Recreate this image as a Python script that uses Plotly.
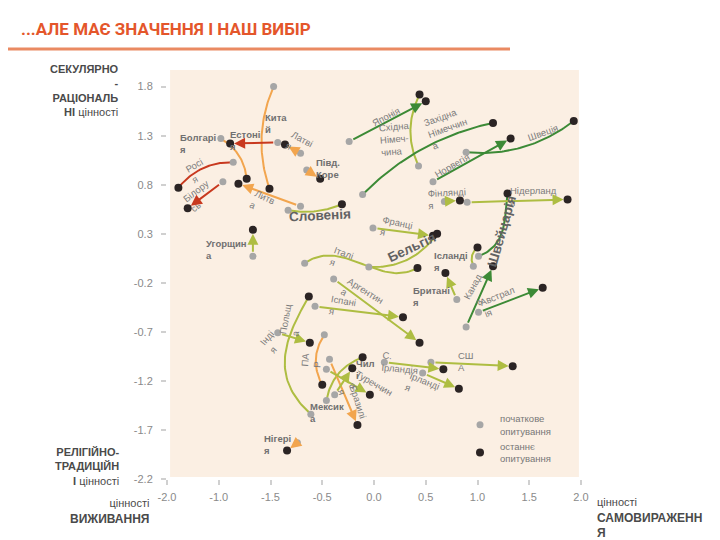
import numpy as np
import plotly.graph_objects as go

# ---------------- data ----------------
countries = ["Китай", "Болгарія", "Естонія", "Латвія", "Південна Корея", "Росія", "Білорусь", "Литва", "Словенія",
             "Японія", "Східна Німеччина", "Західна Німеччина", "Норвегія", "Швеція", "Фінляндія", "Нідерланди", "Швейцарія",
             "Ісландія", "Канада", "Австралія", "Британія", "Франція", "Бельгія", "Італія", "Угорщина", "Аргентина", "Іспанія",
             "Польща", "Індія", "ПАР", "Бразилія", "Туреччина", "Чилі", "Мексика", "Нігерія", "Північна Ірландія", "США", "Ірландія"]
x_first = [-0.97, -1.48, -0.93, -0.71, -0.65, -1.36, -1.46, -0.71, -0.83,
           -0.24, 0.43, -0.11, 0.57, 0.89, 0.68, 0.90, 1.01,
           0.96, 0.89, 1.01, 0.80, -0.01, -0.05, -0.67, -1.17, -0.39, -0.57,
           -0.61, -0.93, -0.48, -0.43, -0.46, -0.38, -0.46, -0.74, 0.10, 0.55, 0.47]
y_first = [1.80, 1.27, 1.23, 1.12, 0.95, 1.03, 0.83, 0.58, 0.54,
           1.24, 0.99, 0.70, 0.83, 1.13, 0.63, 0.62, 0.07,
           -0.03, -0.65, -0.50, -0.37, 0.36, -0.04, 0.00, 0.07, -0.16, -0.44,
           -1.54, -0.71, -0.73, -0.98, -1.08, -1.34, -1.40, -1.83, -1.01, -1.01, -1.12]
x_last = [-1.01, -1.23, -1.39, -0.86, -0.52, -1.89, -1.80, -1.31, -0.31,
          0.50, 0.44, 1.15, 1.32, 1.93, 0.83, 1.87, 1.29,
          1.00, 1.15, 1.63, 0.69, 0.57, 0.61, 0.42, -1.17, 0.44, 0.28,
          -0.63, -0.62, -0.50, -0.16, -0.04, -0.21, -0.11, -0.84, 0.67, 1.34, 0.82]
y_last = [0.76, 0.86, 1.22, 1.21, 0.86, 0.77, 0.56, 0.81, 0.60,
          1.65, 1.72, 1.43, 1.27, 1.45, 0.64, 0.65, 0.71,
          0.16, -0.03, -0.25, -0.10, 0.28, 0.30, -0.05, 0.34, -0.81, -0.55,
          -0.34, -0.81, -1.24, -1.65, -1.34, -1.07, -0.96, -1.91, -1.08, -1.05, -1.28]
trend = ["orange", "orange", "red", "orange", "orange", "red", "red", "orange", "olive",
         "green", "olive", "green", "green", "green", "olive", "olive", "green",
         "olive", "green", "green", "olive", "olive", "olive", "olive", "olive", "olive", "olive",
         "olive", "olive", "orange", "orange", "olive", "olive", "olive", "orange", "olive", "olive", "olive"]

y_tick_vals = [1.8, 1.3, 0.8, 0.3, -0.2, -0.7, -1.2, -1.7, -2.2]
y_tick_text = ["1.8", "1.3", "0.8", "0.3", "-0.2", "-0.7", "-1.2", "-1.7", "-2.2"]
x_tick_vals = [-2.0, -1.5, -1.0, -0.5, 0.0, 0.5, 1.0, 1.5, 2.0]
x_tick_text = ["-2.0", "-1.0", "-1.5", "-0.5", "0.0", "0.5", "1.0", "1.5", "2.0"]

assert len(countries) == len(x_first) == len(y_first) == len(x_last) == len(y_last) == len(trend)

# ---------------- styles ----------------
COLORS = {"red": "#c8391f", "orange": "#f2a54e", "green": "#3c8a36", "olive": "#aebd42"}
GRAY_DOT = "#a6a6a6"
BLACK_DOT = "#2b2424"

# curve bends (b1, b2) as fraction of segment length; straight ones get arrows
bends = {
    "Китай": (-0.13, -0.13), "Болгарія": (0.17, 0.17), "Росія": (-0.16, -0.16), "Словенія": (-0.10, -0.10),
    "Східна Німеччина": (0.16, 0.16), "Західна Німеччина": (0.10, 0.10), "Швеція": (-0.13, -0.13),
    "Швейцарія": (-0.32, -0.10), "Ісландія": (0.25, 0.25), "Бельгія": (-0.18, -0.18),
    "Італія": (0.25, -0.20), "Польща": (0.36, 0.20), "ПАР": (-0.20, -0.20), "Мексика": (0.19, 0.19),
}

# label: text, dx px, dy px (down positive) from first point, angle, style
labels = {
    "Китай": ("Кита<br>й", 2, 37, 0, "b"),
    "Болгарія": ("Болгарі<br>я", -23, 5, 0, "b"),
    "Естонія": ("Естоні<br>я", -33, -2, 0, "b"),
    "Латвія": ("Латві<br>я", -1, -9, 28, "n"),
    "Південна Корея": ("Півд.<br>Коре", 21, -2, 0, "b"),
    "Росія": ("Росі<br>я", -36, 8, -30, "n"),
    "Білорусь": ("Білору<br>сь", -23, 14, -38, "n"),
    "Литва": ("Литв<br>а", -38, -4, 25, "n"),
    "Словенія": ("Словенія", 32, 5, -3, "B"),
    "Японія": ("Японія", 37, -25, -28, "n"),
    "Східна Німеччина": ("Східна<br>Німеч-<br>чина", -23, -27, -5, "n"),
    "Західна Німеччина": ("Західна<br>Німеччин<br>а", 85, -67, -20, "n"),
    "Норвегія": ("Норвегія", 19, -16, -30, "n"),
    "Швеція": ("Швеція", 77, -20, -20, "n"),
    "Фінляндія": ("Фінлянді<br>я", 3, -3, -3, "n"),
    "Нідерланди": ("Нідерланд<br>и", 66, -6, 0, "n"),
    "Швейцарія": ("Швейцарія", 23, -25, -74, "B"),
    "Ісландія": ("Ісланді<br>я", -22, -5, 0, "b"),
    "Канада": ("Канад<br>а", 12, -37, -62, "n"),
    "Австралія": ("Австрал<br>ія", 21, -11, -22, "n"),
    "Британія": ("Британі<br>я", -25, -3, 0, "b"),
    "Франція": ("Франці<br>я", 24, 1, 12, "n"),
    "Бельгія": ("Бельгія", 43, -20, -25, "B"),
    "Італія": ("Італі<br>я", 37, -5, 20, "n"),
    "Угорщина": ("Угорщин<br>а", -26, -7, 0, "b"),
    "Аргентина": ("Аргентин<br>а", 28, 17, 32, "n"),
    "Іспанія": ("Іспані<br>я", 27, 0, 10, "n"),
    "Польща": ("Польщ<br>а", -20, -94, -80, "n"),
    "Індія": ("Інді<br>я", -6, 9, -50, "n"),
    "ПАР": ("ПА<br>Р", -13, 25, -85, "n"),
    "Бразилія": ("Бразилі<br>я", 23, 44, 72, "n"),
    "Туреччина": ("Туреччин<br>а", 45, 19, 30, "n"),
    "Чилі": ("Чил<br>і", 31, -25, 0, "b"),
    "Мексика": ("Мексик<br>а", 1, 12, 0, "b"),
    "Нігерія": ("Нігері<br>я", -20, 2, 0, "b"),
    "Північна Ірландія": ("С.<br>Ірландія", 16, 0, 5, "n"),
    "США": ("СШ<br>А", 35, -1, 0, "n"),
    "Ірландія": ("Ірланді<br>я", 0, 13, 22, "n"),
}

FONT = "Liberation Sans, Arial, sans-serif"
PX_X = 103.5  # approx px per x unit
PX_Y = 98.1   # approx px per y unit

# the page body adds an 8px offset; the figure is sized to compensate
OFF = 8
FW, FH = 720 - OFF, 540 - OFF
L, T = 167 - OFF, 67 - OFF
R = FW - (581 - OFF)
B = FH - (479 - OFF)
PW, PH = FW - L - R, FH - T - B


def pxx(xp):
    return (xp - OFF - L) / PW


def pxy(yp):
    return (FH - B - (yp - OFF)) / PH


def bezier(xs, ys, xe, ye, b1, b2, n=50):
    p0 = np.array([xs * PX_X, ys * PX_Y])
    p3 = np.array([xe * PX_X, ye * PX_Y])
    d = p3 - p0
    perp = np.array([-d[1], d[0]])
    p1 = p0 + d / 3 + b1 * perp
    p2 = p0 + 2 * d / 3 + b2 * perp
    t = np.linspace(0, 1, n)[:, None]
    pts = ((1 - t) ** 3) * p0 + 3 * ((1 - t) ** 2) * t * p1 + 3 * (1 - t) * t ** 2 * p2 + t ** 3 * p3
    return pts[:, 0] / PX_X, pts[:, 1] / PX_Y


fig = go.Figure()
annotations = []

for i, c in enumerate(countries):
    col = COLORS[trend[i]]
    if c in bends:
        b1, b2 = bends[c]
        cx, cy = bezier(x_first[i], y_first[i], x_last[i], y_last[i], b1, b2)
        fig.add_trace(go.Scatter(x=cx, y=cy, mode="lines", line=dict(color=col, width=2),
                                 showlegend=False, hoverinfo="skip"))
    else:
        annotations.append(dict(x=x_last[i], y=y_last[i], ax=x_first[i], ay=y_first[i],
                                xref="x", yref="y", axref="x", ayref="y", text="",
                                showarrow=True, arrowhead=2, arrowsize=1.1, arrowwidth=2,
                                arrowcolor=col, standoff=4, startstandoff=3))

fig.add_trace(go.Scatter(x=x_first, y=y_first, mode="markers", text=countries,
                         marker=dict(color=GRAY_DOT, size=7),
                         name="початкове<br>опитування", hoverinfo="text"))
fig.add_trace(go.Scatter(x=x_last, y=y_last, mode="markers", text=countries,
                         marker=dict(color=BLACK_DOT, size=8),
                         name="останнє<br>опитування", hoverinfo="text"))

for i, c in enumerate(countries):
    txt, dx, dy, ang, st = labels[c]
    if st == "B":
        font = dict(family=FONT, size=13.5, color="#626262")
        txt = "<b>" + txt + "</b>"
    elif st == "b":
        font = dict(family=FONT, size=9.5, color="#707070")
        txt = "<b>" + txt + "</b>"
    else:
        font = dict(family=FONT, size=9.5, color="#7c7c7c")
    annotations.append(dict(x=x_first[i], y=y_first[i], xref="x", yref="y", text=txt,
                            showarrow=False, xshift=dx, yshift=-dy, textangle=ang,
                            xanchor="center", yanchor="middle", align="left", font=font))

# corner axis captions
cap_font = dict(family=FONT, size=11, color="#4a4a4a")
annotations += [
    dict(x=pxx(121), y=pxy(61), xref="paper", yref="paper", xanchor="right", yanchor="top", align="right",
         showarrow=False, font=cap_font,
         text="<b>СЕКУЛЯРНО</b><br><b>-</b><br><b>РАЦІОНАЛЬ</b><br><b>НІ</b> цінності"),
    dict(x=pxx(121), y=pxy(444), xref="paper", yref="paper", xanchor="right", yanchor="top", align="right",
         showarrow=False, font=cap_font,
         text="<b>РЕЛІГІЙНО-</b><br><b>ТРАДИЦІЙН</b><br><b>І</b> цінності"),
    dict(x=pxx(151), y=pxy(495), xref="paper", yref="paper", xanchor="right", yanchor="top", align="right",
         showarrow=False, font=dict(family=FONT, size=12, color="#4a4a4a"),
         text="<span style='font-size:11px'>цінності</span><br><b>ВИЖИВАННЯ</b>"),
    dict(x=pxx(595), y=pxy(494), xref="paper", yref="paper", xanchor="left", yanchor="top", align="left",
         showarrow=False, font=dict(family=FONT, size=12, color="#4a4a4a"),
         text="<span style='font-size:11px'>цінності</span><br><b>САМОВИРАЖЕНН</b><br><b>Я</b>"),
]

fig.update_layout(
    width=FW, height=FH,
    margin=dict(l=L, r=R, t=T, b=B),
    paper_bgcolor="white", plot_bgcolor="white",
    title=dict(text="<b>...АЛЕ МАЄ ЗНАЧЕННЯ І НАШ ВИБІР</b>", x=(21 - OFF) / FW, xanchor="left",
               y=1 - (29 - OFF) / FH, yanchor="middle",
               font=dict(family="Roboto, Open Sans, sans-serif", size=17, color="#e4562b")),
    xaxis=dict(range=[-2.0, 2.0], tickvals=x_tick_vals, ticktext=x_tick_text, showgrid=False,
               zeroline=False, showline=False, ticks="outside", ticklen=5, tickwidth=1.5,
               tickcolor="#d0d0d0", ticklabelstandoff=3,
               tickfont=dict(family=FONT, size=11, color="#8a8a8a")),
    yaxis=dict(range=[-2.2, 2.0], tickvals=y_tick_vals, ticktext=y_tick_text, showgrid=False,
               zeroline=False, showline=False, ticks="outside", ticklen=5, tickwidth=1.5,
               tickcolor="#d0d0d0", ticklabelstandoff=6,
               tickfont=dict(family=FONT, size=11, color="#8a8a8a")),
    legend=dict(x=pxx(460), y=pxy(406), xanchor="left", yanchor="top", bgcolor="rgba(0,0,0,0)",
                font=dict(family=FONT, size=9.5, color="#777777"), itemwidth=30, tracegroupgap=4),
    shapes=[
        dict(type="rect", xref="x", yref="y", x0=-1.97, x1=1.98, y0=-2.18, y1=1.97,
             fillcolor="#fbefe3", line=dict(width=0), layer="below"),
        dict(type="line", xref="paper", yref="paper", x0=pxx(0), x1=pxx(510), y0=pxy(49), y1=pxy(49),
             line=dict(color="#ea8a62", width=3)),
    ],
    annotations=annotations,
)

fig.write_html("out.html")
